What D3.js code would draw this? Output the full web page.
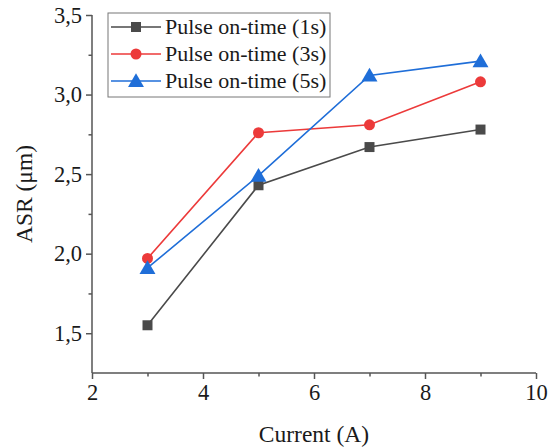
<!DOCTYPE html>
<html>
<head>
<meta charset="utf-8">
<script src="https://cdn.jsdelivr.net/npm/d3@7"></script>
<style>
	body { margin: 0; background: #fff; }
	svg text { font-family: "Liberation Serif", "Times New Roman", serif; fill: #1a1a1a; }
</style>
</head>
<body>
<div id="chart"></div>
<script>
var currents = [3, 5, 7, 9];
var seriesNames = ['Pulse on-time (1s)', 'Pulse on-time (3s)', 'Pulse on-time (5s)'];
var asr1s = [1.55, 2.43, 2.67, 2.78];
var asr3s = [1.97, 2.76, 2.81, 3.08];
var asr5s = [1.91, 2.49, 3.12, 3.21];
var xTicks = [2, 4, 6, 8, 10];
var yTicks = [1.5, 2.0, 2.5, 3.0, 3.5];

var colors = ['#4a4a4a', '#ec3a3a', '#1f6ed8'];
var symbols = [d3.symbolSquare, d3.symbolCircle, d3.symbolTriangle];
var sizes = [100, 95, 110];

var series = [asr1s, asr3s, asr5s].map(function(vals, i) {
	return {
		name: seriesNames[i],
		values: vals.map(function(v, j) { return {x: currents[j], y: v}; })
	};
});

var width = 555, height = 448;
var margin = {top: 15, right: 19, bottom: 75, left: 92};

var svg = d3.select('#chart')
	.append('svg')
	.attr('width', width)
	.attr('height', height);

var x = d3.scaleLinear().domain([2, 10]).range([margin.left, width - margin.right]);
var y = d3.scaleLinear().domain([1.25, 3.5]).range([height - margin.bottom, margin.top]);

var axisColor = '#555';
var fontFam = '"Liberation Serif", "Times New Roman", serif';

// x axis
var xAxis = svg.append('g')
	.attr('transform', 'translate(0,' + (height - margin.bottom) + ')')
	.call(d3.axisBottom(x).tickValues(xTicks).tickSize(6).tickPadding(5).tickFormat(d3.format('d')));
svg.append('g')
	.attr('transform', 'translate(0,' + (height - margin.bottom) + ')')
	.call(d3.axisBottom(x).tickValues([3, 5, 7, 9]).tickSize(3.5).tickFormat(''))
	.select('.domain').remove();

// y axis
var commaFmt = function(d) { return d3.format('.1f')(d).replace('.', ','); };
var yAxis = svg.append('g')
	.attr('transform', 'translate(' + margin.left + ',0)')
	.call(d3.axisLeft(y).tickValues(yTicks).tickSize(6).tickPadding(4).tickFormat(commaFmt));
svg.append('g')
	.attr('transform', 'translate(' + margin.left + ',0)')
	.call(d3.axisLeft(y).tickValues([1.75, 2.25, 2.75, 3.25]).tickSize(3.5).tickFormat(''))
	.select('.domain').remove();

svg.selectAll('g').attr('font-family', fontFam);
svg.selectAll('.domain, .tick line')
	.attr('stroke', axisColor)
	.attr('stroke-width', 1.5);
svg.selectAll('.tick text')
	.style('font-family', fontFam)
	.style('font-size', '22.5px')
	.attr('fill', '#1a1a1a');
xAxis.selectAll('.domain').attr('d', 'M' + margin.left + ',0H' + (width - margin.right));
yAxis.selectAll('.domain').attr('d', 'M0,' + (height - margin.bottom) + 'V' + margin.top);

// axis titles
svg.append('text')
	.attr('x', (margin.left + width - margin.right) / 2)
	.attr('y', 442)
	.attr('text-anchor', 'middle')
	.style('font-size', '23.5px')
	.text('Current (A)');

svg.append('text')
	.attr('transform', 'translate(32,' + ((margin.top + height - margin.bottom) / 2) + ') rotate(-90)')
	.attr('text-anchor', 'middle')
	.style('font-size', '23.5px')
	.text('ASR (μm)');

// lines and markers
var line = d3.line()
	.x(function(d) { return x(d.x); })
	.y(function(d) { return y(d.y); });

series.forEach(function(s, i) {
	svg.append('path')
		.datum(s.values)
		.attr('fill', 'none')
		.attr('stroke', colors[i])
		.attr('stroke-width', 1.6)
		.attr('d', line);

	svg.selectAll('.pt' + i)
		.data(s.values)
		.enter()
		.append('path')
		.attr('class', 'pt' + i)
		.attr('d', d3.symbol().type(symbols[i]).size(sizes[i]))
		.attr('transform', function(d) {
			var dy = i === 2 ? 1.5 : 0;
			return 'translate(' + x(d.x) + ',' + (y(d.y) + dy) + ')';
		})
		.attr('fill', colors[i]);
});

// legend
var legend = svg.append('g').attr('transform', 'translate(108,13)');
legend.append('rect')
	.attr('width', 222)
	.attr('height', 84)
	.attr('fill', '#fff')
	.attr('stroke', '#777')
	.attr('stroke-width', 1);

series.forEach(function(s, i) {
	var row = legend.append('g').attr('transform', 'translate(0,' + (14 + i * 27) + ')');
	row.append('line')
		.attr('x1', 3).attr('x2', 53)
		.attr('stroke', colors[i])
		.attr('stroke-width', 1.6);
	row.append('path')
		.attr('d', d3.symbol().type(symbols[i]).size(sizes[i]))
		.attr('transform', 'translate(28,' + (i === 2 ? 1.5 : 0) + ')')
		.attr('fill', colors[i]);
	row.append('text')
		.attr('x', 57)
		.attr('y', 7)
		.style('font-size', '22px')
		.text(s.name);
});
</script>
</body>
</html>
